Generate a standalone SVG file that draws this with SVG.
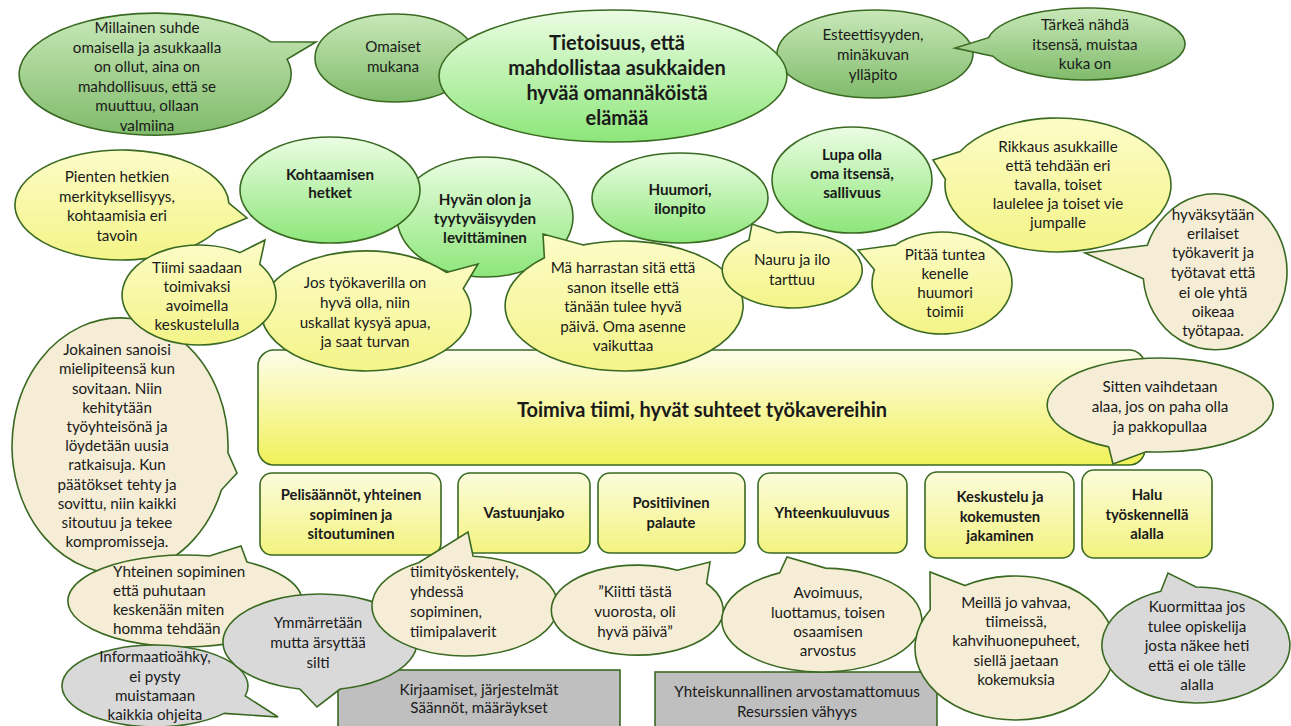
<svg xmlns="http://www.w3.org/2000/svg" width="1291" height="726" viewBox="0 0 1291 726">
  <defs>
    <linearGradient id="gMed" x1="0" y1="0" x2="0" y2="1">
      <stop offset="0" stop-color="#c8e8b8"/>
      <stop offset="1" stop-color="#80bb6b"/>
    </linearGradient>
    <linearGradient id="gLight" x1="0" y1="0" x2="0" y2="1">
      <stop offset="0" stop-color="#ebfde3"/>
      <stop offset="1" stop-color="#8de67a"/>
    </linearGradient>
    <linearGradient id="gYel" x1="0" y1="0" x2="0" y2="1">
      <stop offset="0" stop-color="#fcfcc8"/>
      <stop offset="1" stop-color="#f4f488"/>
    </linearGradient>
    <linearGradient id="gBar" x1="0" y1="0" x2="0" y2="1">
      <stop offset="0" stop-color="#fdfdea"/>
      <stop offset="1" stop-color="#f1f15a"/>
    </linearGradient>
    <linearGradient id="gBox" x1="0" y1="0" x2="0" y2="1">
      <stop offset="0" stop-color="#fcfcdc"/>
      <stop offset="1" stop-color="#f3f380"/>
    </linearGradient>
  </defs>
  <style>
    .s { stroke: #3a6a22; stroke-width: 1.6; }
    .med { fill: url(#gMed); }
    .light { fill: url(#gLight); }
    .yel { fill: url(#gYel); }
    .bar { fill: url(#gBar); }
    .box { fill: url(#gBox); }
    .beige { fill: #f5edd5; }
    .grey { fill: #d9d9d9; }
    .greyr { fill: #bfbfbf; }
    text { font-family: Lato, "Open Sans", "Liberation Sans", sans-serif; font-size: 15.2px; fill: #1a1a1a; text-anchor: middle; }
    .b { font-weight: bold; }
    .big { font-size: 20px; font-weight: bold; }
    .bar-t { font-size: 20px; font-weight: bold; }
    .bt { font-size: 14.8px; font-weight: bold; }
    .l { text-anchor: start; }
  </style>

  <rect width="1291" height="726" fill="#ffffff"/>

  <!-- central bar -->
  <g id="toimiva-tiimi">
    <rect class="s bar" x="258" y="350" width="887" height="115" rx="16"/>
    <text class="bar-t" x="702" y="417">Toimiva tiimi, hyvät suhteet työkavereihin</text>
  </g>

  <!-- top row: residents -->
  <g id="omaiset">
    <ellipse class="s med" cx="395" cy="58" rx="80" ry="44"/>
    <text x="393" y="52">Omaiset</text>
    <text x="393" y="72">mukana</text>
  </g>
  <g id="esteettisyys">
    <ellipse class="s med" cx="875" cy="54" rx="98" ry="44"/>
    <text x="873" y="40">Esteettisyyden,</text>
    <text x="873" y="60">minäkuvan</text>
    <text x="873" y="80">ylläpito</text>
  </g>
  <g id="millainen-suhde">
    <path class="s med" d="M270.3,41.7 L316,42 L287,59.2 A136,61 0 1 1 270.3,41.7 Z"/>
    <text x="147" y="33">Millainen suhde</text>
    <text x="147" y="52.5">omaisella ja asukkaalla</text>
    <text x="147" y="72">on ollut, aina on</text>
    <text x="147" y="91.5">mahdollisuus, että se</text>
    <text x="147" y="111">muuttuu, ollaan</text>
    <text x="147" y="130.5">valmiina</text>
  </g>
  <g id="tietoisuus">
    <ellipse class="s light" cx="613" cy="76" rx="174" ry="66"/>
    <text class="big" x="617" y="50">Tietoisuus, että</text>
    <text class="big" x="617" y="75">mahdollistaa asukkaiden</text>
    <text class="big" x="617" y="100">hyvää omannäköistä</text>
    <text class="big" x="617" y="125">elämää</text>
  </g>
  <g id="tarkea-nahda">
    <path class="s med" d="M993,56.3 L955,48 L988.5,37.7 A99,36 0 1 1 993,56.3 Z"/>
    <text x="1085" y="30">Tärkeä nähdä</text>
    <text x="1085" y="50">itsensä, muistaa</text>
    <text x="1085" y="69">kuka on</text>
  </g>

  <!-- second row -->
  <g id="hyvan-olon">
    <ellipse class="s light" cx="485" cy="217" rx="88" ry="60"/>
    <text class="b" x="485" y="205">Hyvän olon ja</text>
    <text class="b" x="485" y="224">tyytyväisyyden</text>
    <text class="b" x="485" y="243">levittäminen</text>
  </g>
  <g id="kohtaamisen-hetket">
    <ellipse class="s light" cx="330" cy="190" rx="90" ry="53"/>
    <text class="b" x="330" y="180">Kohtaamisen</text>
    <text class="b" x="330" y="198">hetket</text>
  </g>
  <g id="huumori">
    <ellipse class="s light" cx="680" cy="198" rx="88" ry="45"/>
    <text class="b" x="680" y="195">Huumori,</text>
    <text class="b" x="680" y="214">ilonpito</text>
  </g>
  <g id="lupa-olla">
    <ellipse class="s light" cx="852" cy="180" rx="80" ry="53"/>
    <text class="b" x="852" y="160">Lupa olla</text>
    <text class="b" x="852" y="179">oma itsensä,</text>
    <text class="b" x="852" y="198">sallivuus</text>
  </g>
  <g id="pienten-hetkien">
    <path class="s yel" d="M228.9,203.1 L247,218 L216.5,230.8 A107,55 0 1 1 228.9,203.1 Z"/>
    <text x="117" y="182">Pienten hetkien</text>
    <text x="117" y="201.5">merkityksellisyys,</text>
    <text x="117" y="221">kohtaamisia eri</text>
    <text x="117" y="240.5">tavoin</text>
  </g>
  <g id="rikkaus">
    <path class="s yel" d="M945.4,179.2 L933,160 L960.1,151.5 A113,67 0 1 1 945.4,179.2 Z"/>
    <text x="1058" y="152">Rikkaus asukkaille</text>
    <text x="1058" y="171">että tehdään eri</text>
    <text x="1058" y="190">tavalla, toiset</text>
    <text x="1058" y="209">laulelee ja toiset vie</text>
    <text x="1058" y="228">jumpalle</text>
  </g>
  <g id="jokainen-sanoisi">
    <path class="s beige" d="M227.9,452.7 L237,473 L221.5,489.8 A108,128 0 1 1 227.9,452.7 Z"/>
    <text x="117" y="355">Jokainen sanoisi</text>
    <text x="117" y="374">mielipiteensä kun</text>
    <text x="117" y="393.5">sovitaan. Niin</text>
    <text x="117" y="412.5">kehitytään</text>
    <text x="117" y="432">työyhteisönä ja</text>
    <text x="117" y="451">löydetään uusia</text>
    <text x="117" y="470">ratkaisuja. Kun</text>
    <text x="117" y="489.5">päätökset tehty ja</text>
    <text x="117" y="508.5">sovittu, niin kaikki</text>
    <text x="117" y="528">sitoutuu ja tekee</text>
    <text x="117" y="547">kompromisseja.</text>
  </g>
  <g id="jos-tyokaverilla">
    <path class="s yel" d="M446.4,272.4 L478,264 L463.3,288.5 A105,60 0 1 1 446.4,272.4 Z"/>
    <text x="365" y="288">Jos työkaverilla on</text>
    <text x="365" y="308">hyvä olla, niin</text>
    <text x="365" y="327.5">uskallat kysyä apua,</text>
    <text x="365" y="347">ja saat turvan</text>
  </g>
  <g id="tiimi-saadaan">
    <path class="s yel" d="M239.8,252.6 L265,240 L259.7,264.2 A77,50 0 1 1 239.8,252.6 Z"/>
    <text x="197" y="273">Tiimi saadaan</text>
    <text x="197" y="292">toimivaksi</text>
    <text x="197" y="311">avoimella</text>
    <text x="197" y="330">keskustelulla</text>
  </g>
  <g id="ma-harrastan">
    <path class="s yel" d="M544.4,257.7 L543,234 L583.3,244.9 A119,65 0 1 1 544.4,257.7 Z"/>
    <text x="623" y="273">Mä harrastan sitä että</text>
    <text x="623" y="292.5">sanon itselle että</text>
    <text x="623" y="312">tänään tulee hyvä</text>
    <text x="623" y="331.5">päivä. Oma asenne</text>
    <text x="623" y="351">vaikuttaa</text>
  </g>
  <g id="nauru">
    <path class="s yel" d="M748.9,240.1 L752,224 L777.4,232.8 A70,38 0 1 1 748.9,240.1 Z"/>
    <text x="792" y="265">Nauru ja ilo</text>
    <text x="792" y="285">tarttuu</text>
  </g>
  <g id="pitaa-tuntea">
    <path class="s yel" d="M874.4,269.8 L858,250 L895.2,245.1 A70,51 0 1 1 874.4,269.8 Z"/>
    <text x="945" y="260">Pitää tuntea</text>
    <text x="945" y="279">kenelle</text>
    <text x="945" y="298">huumori</text>
    <text x="945" y="317">toimii</text>
  </g>
  <g id="hyvaksytaan">
    <path class="s beige" d="M1143.3,278.8 L1085,253 L1147.3,245.3 A72,78 0 1 1 1143.3,278.8 Z"/>
    <text x="1213" y="220">hyväksytään</text>
    <text x="1213" y="239">erilaiset</text>
    <text x="1213" y="258">työkaverit ja</text>
    <text x="1213" y="278">työtavat että</text>
    <text x="1213" y="298">ei ole yhtä</text>
    <text x="1213" y="317">oikeaa</text>
    <text x="1213" y="336">työtapaa.</text>
  </g>
  <g id="sitten-vaihdetaan">
    <path class="s beige" d="M1146.2,451.7 L1113,464 L1108.7,446.9 A113,47 0 1 1 1146.2,451.7 Z"/>
    <text x="1160" y="392">Sitten vaihdetaan</text>
    <text x="1160" y="412">alaa, jos on paha olla</text>
    <text x="1160" y="432">ja pakkopullaa</text>
  </g>

  <!-- factor boxes -->
  <g id="pelisaannot">
    <rect class="s box" x="260" y="473" width="181" height="82" rx="12"/>
    <text class="bt" x="351" y="500">Pelisäännöt, yhteinen</text>
    <text class="bt" x="351" y="519.5">sopiminen ja</text>
    <text class="bt" x="351" y="538.5">sitoutuminen</text>
  </g>
  <g id="vastuunjako">
    <rect class="s box" x="458" y="473" width="132" height="80" rx="12"/>
    <text class="bt" x="524" y="518">Vastuunjako</text>
  </g>
  <g id="positiivinen-palaute">
    <rect class="s box" x="598" y="473" width="147" height="80" rx="12"/>
    <text class="bt" x="671" y="508">Positiivinen</text>
    <text class="bt" x="671" y="528">palaute</text>
  </g>
  <g id="yhteenkuuluvuus">
    <rect class="s box" x="758" y="473" width="149" height="80" rx="12"/>
    <text class="bt" x="832" y="518">Yhteenkuuluvuus</text>
  </g>
  <g id="keskustelu">
    <rect class="s box" x="925" y="472" width="149" height="86" rx="12"/>
    <text class="bt" x="1000" y="502">Keskustelu ja</text>
    <text class="bt" x="1000" y="522">kokemusten</text>
    <text class="bt" x="1000" y="541">jakaminen</text>
  </g>
  <g id="halu">
    <rect class="s box" x="1082" y="470" width="130" height="88" rx="12"/>
    <text class="bt" x="1147" y="500">Halu</text>
    <text class="bt" x="1147" y="520">työskennellä</text>
    <text class="bt" x="1147" y="539">alalla</text>
  </g>

  <!-- obstacles -->
  <g id="kirjaamiset">
    <rect class="s greyr" x="338" y="670" width="282" height="64"/>
    <text x="479" y="695">Kirjaamiset, järjestelmät</text>
    <text x="479" y="713">Säännöt, määräykset</text>
  </g>
  <g id="yhteiskunnallinen">
    <rect class="s greyr" x="655" y="672" width="282" height="62"/>
    <text x="797" y="697">Yhteiskunnallinen arvostamattomuus</text>
    <text x="797" y="717">Resurssien vähyys</text>
  </g>

  <!-- bottom row bubbles -->
  <g id="yhteinen-sopiminen">
    <path class="s beige" d="M209.3,556 L241,546 L247,562 A117,46 0 1 1 209.3,556 Z"/>
    <text class="l" x="113" y="577">Yhteinen sopiminen</text>
    <text class="l" x="113" y="596">että puhutaan</text>
    <text class="l" x="113" y="615">keskenään miten</text>
    <text class="l" x="113" y="634">homma tehdään</text>
  </g>
  <g id="informaatioahky">
    <path class="s grey" d="M245.2,695.9 L278,717 L224.1,713.4 A93,41 0 1 1 245.2,695.9 Z"/>
    <text x="155" y="662">Informaatioähky,</text>
    <text x="155" y="682">ei pysty</text>
    <text x="155" y="701">muistamaan</text>
    <text x="155" y="720">kaikkia ohjeita</text>
  </g>
  <g id="ymmarretaan">
    <path class="s grey" d="M340.2,689 L317,707 L299.8,689 A97,48 0 1 1 340.2,689 Z"/>
    <text x="318" y="628">Ymmärretään</text>
    <text x="318" y="648">mutta ärsyttää</text>
    <text x="318" y="668">silti</text>
  </g>
  <g id="tiimityoskentely">
    <path class="s beige" d="M418.5,562.7 L468,532 L473.1,556.2 A93,50 0 1 1 418.5,562.7 Z"/>
    <text class="l" x="410" y="577">tiimityöskentely,</text>
    <text class="l" x="410" y="597">yhdessä</text>
    <text class="l" x="410" y="617">sopiminen,</text>
    <text class="l" x="410" y="637">tiimipalaverit</text>
  </g>
  <g id="kiitti">
    <path class="s beige" d="M677.3,570.3 L710,562 L706.6,583.5 A86,45 0 1 1 677.3,570.3 Z"/>
    <text x="635" y="597">”Kiitti tästä</text>
    <text x="635" y="617">vuorosta, oli</text>
    <text x="635" y="637">hyvä päivä”</text>
  </g>
  <g id="avoimuus">
    <path class="s beige" d="M779.7,572.9 L787,557 L825.5,568.1 A100,52 0 1 1 779.7,572.9 Z"/>
    <text x="828" y="598">Avoimuus,</text>
    <text x="828" y="618">luottamus, toisen</text>
    <text x="828" y="637">osaamisen</text>
    <text x="828" y="656">arvostus</text>
  </g>
  <g id="meilla">
    <path class="s beige" d="M930.2,609.8 L930,572 L965,585.6 A100,72 0 1 1 930.2,609.8 Z"/>
    <text x="1016" y="608">Meillä jo vahvaa,</text>
    <text x="1016" y="627">tiimeissä,</text>
    <text x="1016" y="646">kahvihuonepuheet,</text>
    <text x="1016" y="666">siellä jaetaan</text>
    <text x="1016" y="685">kokemuksia</text>
  </g>
  <g id="kuormittaa">
    <path class="s grey" d="M1160.8,591.2 L1168,573 L1196,587 A94,58 0 1 1 1160.8,591.2 Z"/>
    <text x="1197" y="612">Kuormittaa jos</text>
    <text x="1197" y="632">tulee opiskelija</text>
    <text x="1197" y="651">josta näkee heti</text>
    <text x="1197" y="671">että ei ole tälle</text>
    <text x="1197" y="690">alalla</text>
  </g>
</svg>
